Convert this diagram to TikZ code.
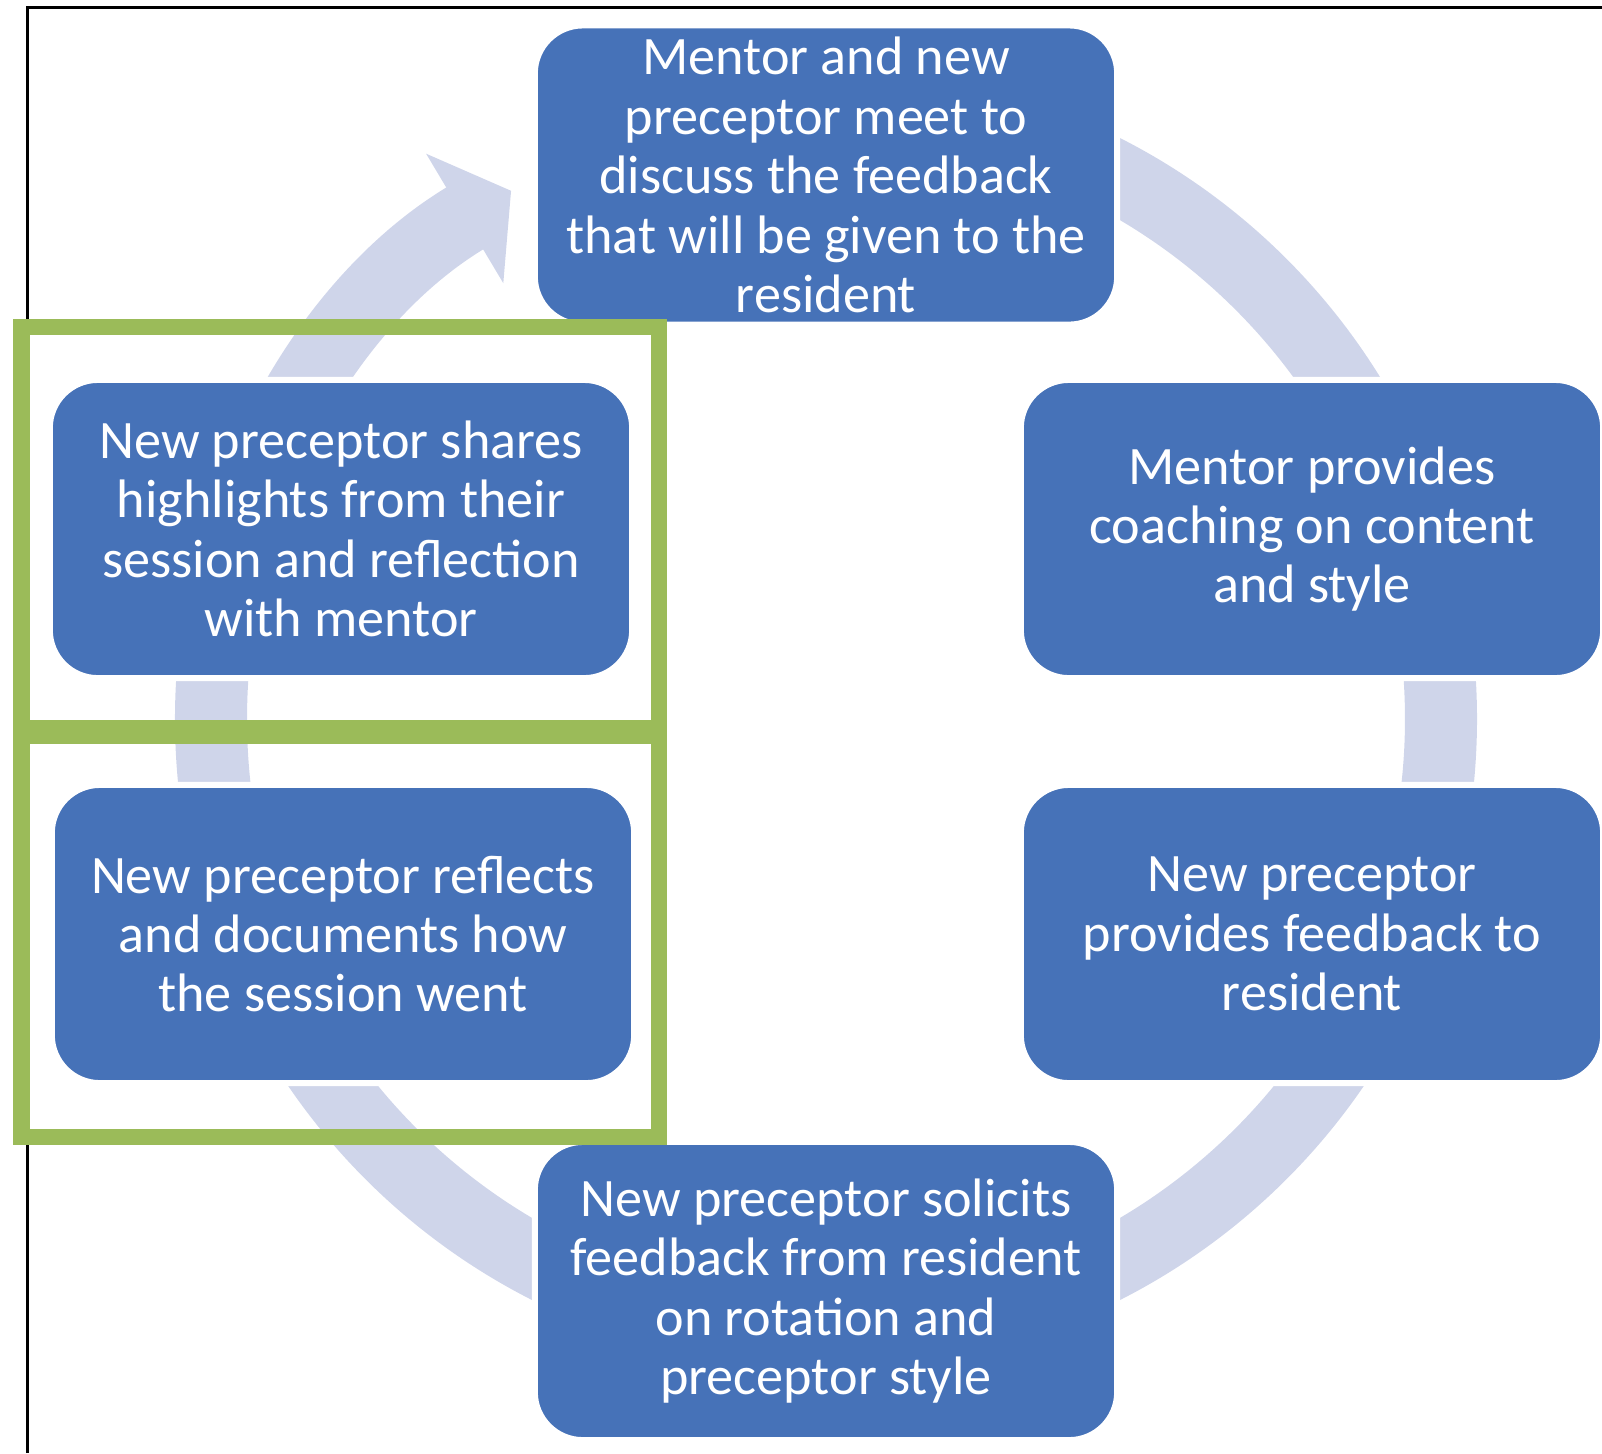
\documentclass[tikz,border=0pt]{standalone}
\usepackage{fontspec}
\setmainfont{Carlito}
\usetikzlibrary{arrows.meta}
\definecolor{stepBlue}{RGB}{70,114,184}
\definecolor{ringBlue}{RGB}{207,213,234}
\definecolor{markGreen}{RGB}{155,187,89}

\begin{document}
\begin{tikzpicture}[x=0.01cm, y=-0.01cm,
    stepbox/.style={draw=white, line width=0.06cm, fill=stepBlue, rounded corners=0.48cm,
        minimum width=5.82cm, minimum height=2.98cm, text=white, align=center,
        font=\fontsize{15.4}{16.9}\selectfont},
    ring/.style={draw=ringBlue, line width=0.72cm},
    highlight/.style={draw=markGreen, line width=0.16cm}]
    \useasboundingbox (0,0) rectangle (1602,1453);

    % open frame along the top and left
    \draw[line width=0.027cm] (27.3,1453) -- (27.3,7.3) -- (1602,7.3);

    % cycle ring behind the steps
    \coordinate (hub) at (826,719);
    \draw[ring, -{Triangle[length=0.54cm, width=1.48cm]}]
        (hub) ++(270:615) arc[start angle=270, end angle=599.2, radius=615];

    % the six steps
    \node[stepbox] (meet) at (826,175) {Mentor and new\\preceptor meet to\\discuss the feedback\\that will be given to the\\resident};
    \node[stepbox] (coach) at (1312,529) {Mentor provides\\coaching on content\\and style};
    \node[stepbox] (give) at (1312,934) {New preceptor\\provides feedback to\\resident};
    \node[stepbox] (solicit) at (826,1291) {New preceptor solicits\\feedback from resident\\on rotation and\\preceptor style};
    \node[stepbox] (reflect) at (343,934) {New preceptor reflects\\and documents how\\the session went};
    \node[stepbox] (share) at (341,529) {New preceptor shares\\highlights from their\\session and reflection\\with mentor};

    % green marks on the two reflection steps
    \draw[highlight] (21.5,327) rectangle (659,728);
    \draw[highlight] (21.5,736) rectangle (659,1137);
\end{tikzpicture}
\end{document}
